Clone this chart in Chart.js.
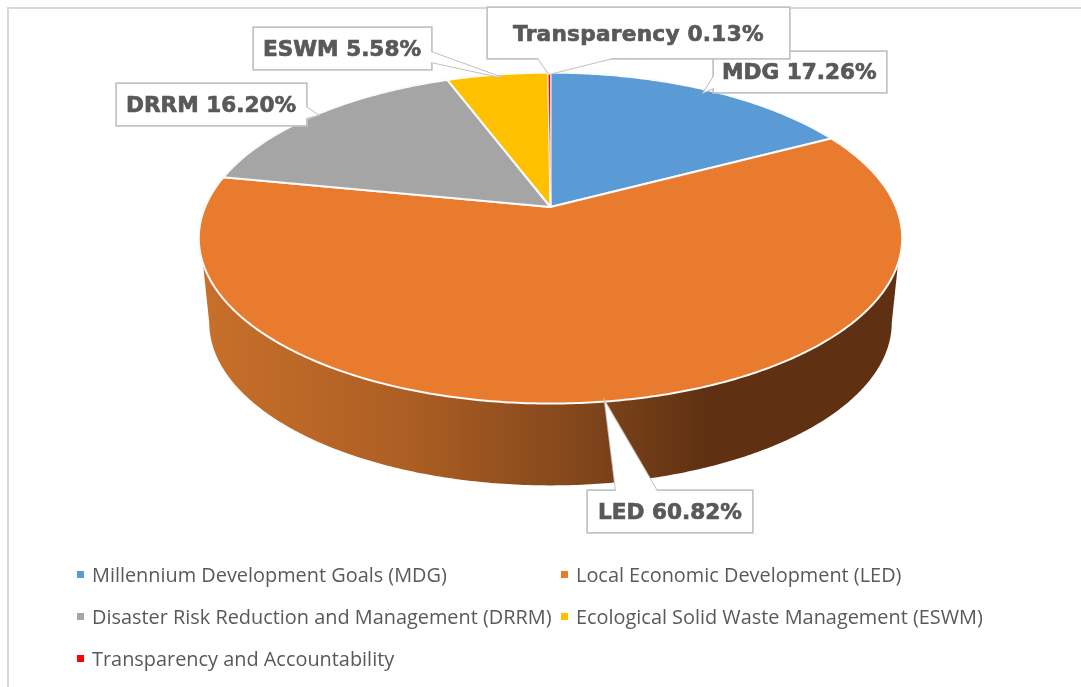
<!DOCTYPE html>
<html>
<head>
<meta charset="utf-8">
<title>Budget allocation</title>
<script src="https://cdn.jsdelivr.net/npm/chart.js@4"></script>
<style>
  html, body { margin: 0; padding: 0; background: #fff; overflow: hidden; }
  canvas { display: block; }
</style>
</head>
<body>
<canvas id="pieChart" width="1081" height="687"></canvas>
<script>
const categories = [
  "Millennium Development Goals (MDG)",
  "Local Economic Development (LED)",
  "Disaster Risk Reduction and Management (DRRM)",
  "Ecological Solid Waste Management (ESWM)",
  "Transparency and Accountability",
];
const shortNames = ["MDG", "LED", "DRRM", "ESWM", "Transparency"];
const shares = [17.26, 60.82, 16.2, 5.58, 0.13];
const sliceColors = ["#5B9BD5", "#E97B2F", "#A5A5A5", "#FFC000", "#FF0000"];

// callout box [left, top, right, bottom], wedge base a, tip, wedge base b
const callouts = [
  { box: [714, 52, 886, 92], a: [714, 76], tip: [704, 92], b: [714, 88], textX: 722 },
  { box: [588, 491, 752, 532], a: [616, 491], tip: [605, 402], b: [657, 491], textX: 598 },
  { box: [117, 84, 306, 125], a: [306, 107], tip: [318, 115], b: [306, 118], textX: 126 },
  { box: [254, 28, 431, 69], a: [431, 52], tip: [500, 77], b: [431, 62], textX: 263 },
  { box: [488, 8, 789, 58], a: [538, 58], tip: [549, 74], b: [613, 58], textX: 513, spacing: "0.28px" },
];
// legend squares, same order as categories
const legendSpots = [[77, 576], [561, 576], [77, 618], [561, 618], [77, 660]];

const TEXT_GREY = "#595959";
const TILT = 0.188; // perspective of the pie top

// circle angle -> tilted pie point, top face or the lower rim of the wall
function project(arc, angle, lower) {
  const r = arc.outerRadius;
  const ux = Math.cos(angle);
  const uy = Math.sin(angle);
  const w = 1 - TILT * uy;
  if (lower) {
    return [arc.x + (r * 2.52 * ux) / w, arc.y + r * 0.64 + (r * 1.18 * uy) / w];
  }
  return [arc.x + (r * 2.597 * ux) / w, arc.y + (r * 1.2 * uy) / w];
}

function traceRim(ctx, arc, from, to, lower) {
  const steps = Math.max(2, Math.ceil(Math.abs(to - from) / 0.01));
  for (let i = 0; i <= steps; i++) {
    const p = project(arc, from + ((to - from) * i) / steps, lower);
    ctx.lineTo(p[0], p[1]);
  }
}

// the pie slices keep the library's angles, only the outline is tilted
Chart.ArcElement.prototype.draw = function (ctx) {
  ctx.save();
  ctx.beginPath();
  ctx.moveTo(this.x, this.y);
  traceRim(ctx, this, this.startAngle, this.endAngle, false);
  ctx.closePath();
  ctx.fillStyle = this.options.backgroundColor;
  ctx.fill();
  ctx.strokeStyle = this.options.borderColor;
  ctx.lineWidth = this.options.borderWidth;
  ctx.lineJoin = "round";
  ctx.stroke();
  ctx.restore();
};

const wallPlugin = {
  id: "wall",
  beforeDatasetsDraw(chart) {
    const ctx = chart.ctx;
    chart.getDatasetMeta(0).data.forEach((arc) => {
      // only the front of the pie shows a wall
      const topFrom = Math.max(arc.startAngle, 0.337);
      const topTo = Math.min(arc.endAngle, Math.PI - 0.337);
      if (topFrom >= topTo) return;
      const grad = ctx.createLinearGradient(199, 0, 902, 0);
      grad.addColorStop(0, "#C8702B");
      grad.addColorStop(0.3, "#AC5E23");
      grad.addColorStop(0.58, "#7B421A");
      grad.addColorStop(0.72, "#5F3112");
      grad.addColorStop(1, "#5F3112");
      ctx.save();
      ctx.beginPath();
      const start = project(arc, topFrom, false);
      ctx.moveTo(start[0], start[1]);
      traceRim(ctx, arc, topFrom, topTo, false);
      traceRim(ctx, arc, Math.PI - 0.189, 0.189, true);
      ctx.closePath();
      ctx.fillStyle = grad;
      ctx.fill();
      ctx.restore();
    });
  },
};

const framePlugin = {
  id: "frame",
  beforeDraw(chart) {
    const ctx = chart.ctx;
    ctx.save();
    ctx.strokeStyle = "#D9D9D9";
    ctx.lineWidth = 2;
    ctx.beginPath();
    ctx.moveTo(1081, 8);
    ctx.lineTo(8, 8);
    ctx.lineTo(8, 687);
    ctx.stroke();
    ctx.restore();
  },
};

const calloutPlugin = {
  id: "callouts",
  afterDatasetsDraw(chart) {
    const ctx = chart.ctx;
    // back to front like the reference, the Transparency box sits on top
    [2, 3, 1, 0, 4].forEach((i) => {
      const c = callouts[i];
      const [l, t, r, b] = c.box;
      ctx.save();
      ctx.fillStyle = "#fff";
      ctx.strokeStyle = "#C4C4C4";
      ctx.lineWidth = 3.5;
      ctx.beginPath();
      ctx.rect(l, t, r - l, b - t);
      ctx.stroke();
      // wedge
      ctx.beginPath();
      ctx.moveTo(c.a[0], c.a[1]);
      ctx.lineTo(c.tip[0], c.tip[1]);
      ctx.lineTo(c.b[0], c.b[1]);
      ctx.lineWidth = 2;
      ctx.stroke();
      ctx.fill();
      ctx.fillRect(l, t, r - l, b - t);
      ctx.fillStyle = TEXT_GREY;
      ctx.strokeStyle = TEXT_GREY;
      ctx.lineWidth = 0.7;
      ctx.font = 'bold 21.6px "DejaVu Sans"';
      ctx.letterSpacing = c.spacing || "0px";
      ctx.textBaseline = "middle";
      const label = shortNames[i] + " " + shares[i].toFixed(2) + "%";
      const y = (t + b) / 2 + (i == 4 ? 2 : 1.5);
      ctx.fillText(label, c.textX, y);
      ctx.strokeText(label, c.textX, y);
      ctx.restore();
    });
  },
};

const legendPlugin = {
  id: "sideLegend",
  afterDraw(chart) {
    const ctx = chart.ctx;
    ctx.save();
    ctx.font = '19.9px "Open Sans"';
    ctx.textBaseline = "middle";
    categories.forEach((name, i) => {
      const [x, y] = legendSpots[i];
      ctx.fillStyle = sliceColors[i];
      ctx.fillRect(x, y - 5, 7, 7);
      ctx.fillStyle = TEXT_GREY;
      ctx.fillText(name, x + 15, y);
    });
    ctx.restore();
  },
};

const myChart = new Chart(document.getElementById("pieChart"), {
  type: "pie",
  data: {
    labels: categories,
    datasets: [
      {
        data: shares,
        backgroundColor: sliceColors,
        borderColor: "#FAFAFA",
        borderWidth: [2, 2, 2, 2, 0.6],
      },
    ],
  },
  options: {
    responsive: false,
    animation: false,
    layout: { padding: { left: 199, right: 179, top: 73, bottom: 346 } },
    plugins: {
      legend: { display: false },
      tooltip: { enabled: false },
    },
  },
  plugins: [framePlugin, wallPlugin, calloutPlugin, legendPlugin],
});
</script>
</body>
</html>
